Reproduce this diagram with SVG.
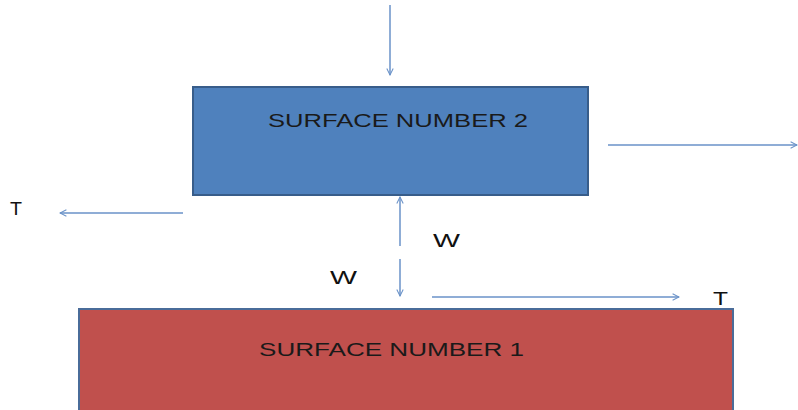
<svg xmlns="http://www.w3.org/2000/svg" width="798" height="410" viewBox="0 0 798 410">
  <defs>
    <marker id="arr" viewBox="0 0 10 10" refX="9" refY="5" markerWidth="8" markerHeight="8" markerUnits="userSpaceOnUse" orient="auto">
      <path d="M1,1 L9,5 L1,9" fill="none" stroke="#6A92C8" stroke-width="1.3"/>
    </marker>
  </defs>
  <style>
    .box-text { font-family: "Liberation Sans", Arial, sans-serif; font-size: 19px; fill: #1a1a1a; }
    .lbl { font-family: "Liberation Sans", Arial, sans-serif; font-size: 18px; fill: #111; }
    .conn { stroke: #6A92C8; stroke-width: 1.5; fill: none; marker-end: url(#arr); }
  </style>
  <rect width="798" height="410" fill="#ffffff"/>
  <g id="surface2">
    <rect x="193" y="87" width="395" height="108" fill="#4F81BD" stroke="#385D8A" stroke-width="2"/>
    <text class="box-text" x="268" y="127" textLength="260" lengthAdjust="spacingAndGlyphs">SURFACE NUMBER 2</text>
  </g>
  <g id="surface1">
    <rect x="79" y="309" width="654" height="110" fill="#C0504D" stroke="#4A6C99" stroke-width="2"/>
    <text class="box-text" x="259" y="356" textLength="265" lengthAdjust="spacingAndGlyphs">SURFACE NUMBER 1</text>
  </g>
  <g id="labels">
    <text class="lbl" x="10" y="215" textLength="12" lengthAdjust="spacingAndGlyphs">T</text>
    <text class="lbl" x="713" y="305" textLength="15" lengthAdjust="spacingAndGlyphs">T</text>
    <text class="lbl" x="433" y="247" textLength="27" lengthAdjust="spacingAndGlyphs">W</text>
    <text class="lbl" x="330" y="284" textLength="27" lengthAdjust="spacingAndGlyphs">W</text>
  </g>
  <g id="connectors">
    <line class="conn" x1="390" y1="5" x2="390" y2="75"/>
    <line class="conn" x1="608" y1="145" x2="797" y2="145"/>
    <line class="conn" x1="183" y1="213" x2="60" y2="213"/>
    <line class="conn" x1="400" y1="246" x2="400" y2="197"/>
    <line class="conn" x1="400" y1="259" x2="400" y2="296"/>
    <line class="conn" x1="432" y1="297" x2="679" y2="297"/>
  </g>
</svg>
